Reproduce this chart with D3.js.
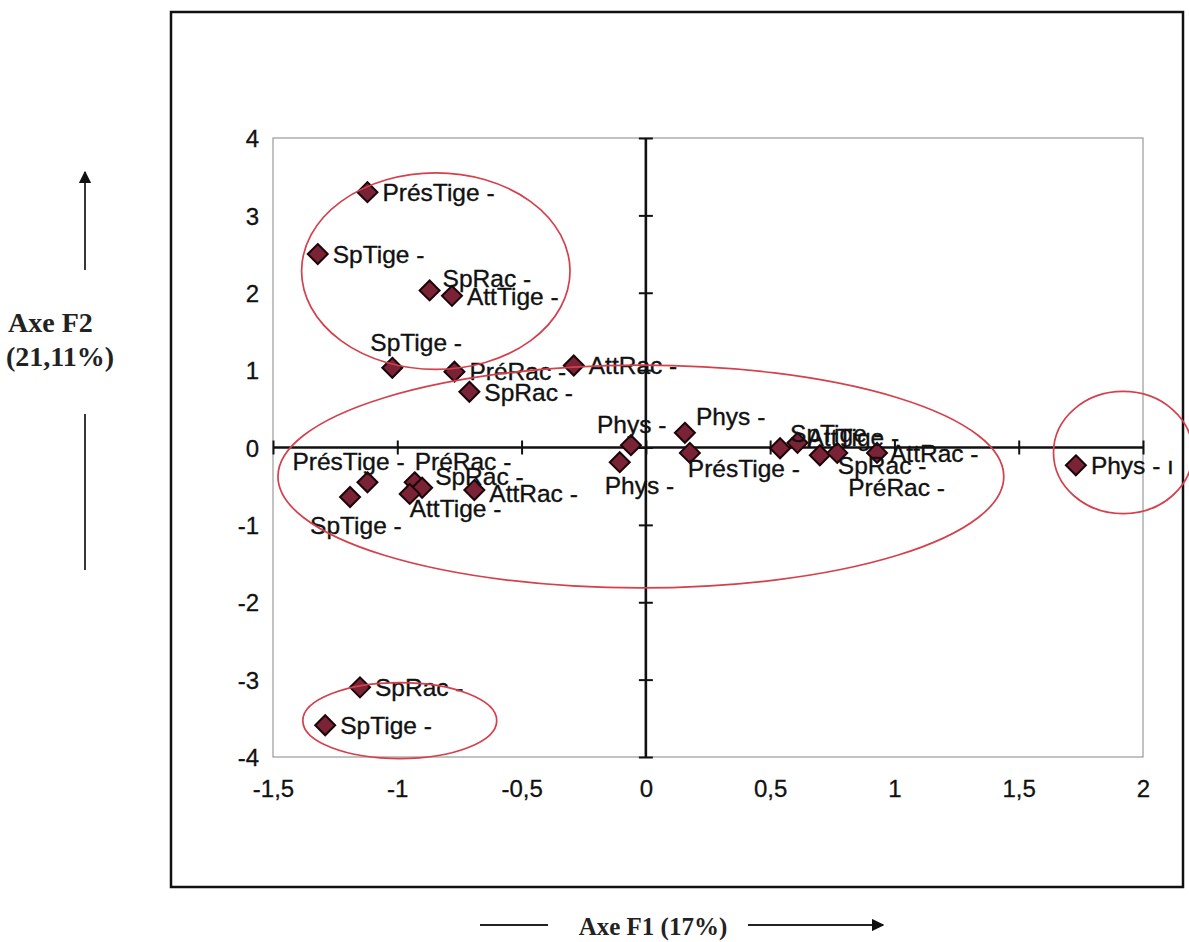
<!DOCTYPE html>
<html>
  <head>
    <title>ACP Axe F1 / Axe F2</title>
    <script src="https://d3js.org/d3.v7.min.js"></script>
    <style>
      body { margin: 0; background: #fff; }
      .lbl { font-family: Arial, "Liberation Sans", sans-serif; font-size: 24.5px; fill: #111; stroke: #111; stroke-width: 0.35; }
      .tick text { font-family: Arial, "Liberation Sans", sans-serif; font-size: 24px; fill: #111; stroke: #111; stroke-width: 0.3; }
      .title { font-family: "Times New Roman", "Liberation Serif", serif; font-weight: bold; fill: #222; }
    </style>
  </head>
  <body>
    <div id="chart"></div>
    <script>
      // Data
      var names = ["PrésTige", "SpTige", "SpRac", "AttTige", "SpTige", "PréRac", "SpRac", "AttRac",
                   "Phys", "Phys", "Phys", "PrésTige", "SpTige", "AttTige", "SpRac", "PréRac",
                   "AttRac", "Phys", "SpTige", "PrésTige", "PréRac", "SpRac", "AttTige", "AttRac",
                   "SpRac", "SpTige"];
      var f1 = [-1.12, -1.32, -0.87, -0.78, -1.02, -0.77, -0.71, -0.29,
                -0.06, -0.105, 0.157, 0.177, 0.54, 0.61, 0.70, 0.77,
                0.93, 1.73, -1.19, -1.12, -0.93, -0.90, -0.95, -0.69,
                -1.15, -1.29];
      var f2 = [3.30, 2.50, 2.03, 1.96, 1.03, 0.98, 0.72, 1.06,
                0.03, -0.19, 0.19, -0.07, -0.01, 0.06, -0.10, -0.07,
                -0.07, -0.23, -0.64, -0.45, -0.45, -0.52, -0.60, -0.55,
                -3.10, -3.59];
      var xTicks = [-1.5, -1, -0.5, 0, 0.5, 1, 1.5, 2];
      var xTickLabels = ["-1,5", "-1", "-0,5", "0", "0,5", "1", "1,5", "2"];
      var yTicks = [-4, -3, -2, -1, 0, 1, 2, 3, 4];
      var yTickLabels = ["-4", "-3", "-2", "-1", "0", "1", "2", "3", "4"];

      // groups circled by hand: centre f1, centre f2, half width, half height (axis units)
      var groupCx = [-0.845, -0.02, 1.92, -0.99];
      var groupCy = [2.28, -0.375, -0.065, -3.53];
      var groupRx = [0.54, 1.46, 0.28, 0.39];
      var groupRy = [1.27, 1.44, 0.79, 0.49];

      // label nudges (px), the labels were moved by hand in the original
      var labelDx = [15, 15, 13, 15, -22, 15, 15, 15,
                     -34, -15, 11, -2, 10, 10, 18, 11,
                     13, 15, -40, -75, 0, 13, 0, 15,
                     15, 15];
      var labelDy = [0, 0, -12, 0, -26, 0, 0, 0,
                     -21, 23, -17, 15, -15, -6, 10, 34,
                     0, 0, 28, -21, -21, -12, 14, 3,
                     0, 0];

      var points = names.map(function(n, i) {
        return { name: n, x: f1[i], y: f2[i], dx: labelDx[i], dy: labelDy[i] };
      });
      var extraText = { 17: " ı" };

      var svg = d3.select("#chart")
        .append("svg")
        .attr("width", 1189)
        .attr("height", 942);

      // outer frame
      svg.append("rect")
        .attr("x", 171).attr("y", 12)
        .attr("width", 1012).attr("height", 875)
        .attr("fill", "none")
        .attr("stroke", "#111")
        .attr("stroke-width", 2.5);

      var xScale = d3.scaleLinear().domain([-1.5, 2]).range([273, 1143]);
      var yScale = d3.scaleLinear().domain([-4, 4]).range([757, 138]);

      // plot area border
      svg.append("rect")
        .attr("x", xScale(-1.5)).attr("y", yScale(4))
        .attr("width", xScale(2) - xScale(-1.5))
        .attr("height", yScale(-4) - yScale(4))
        .attr("fill", "none")
        .attr("stroke", "#9a9a9a")
        .attr("stroke-width", 1.2);

      // tick labels
      var xAx = svg.append("g")
        .attr("transform", "translate(0," + (yScale(-4) + 20) + ")")
        .call(d3.axisBottom(xScale).tickValues(xTicks).tickSize(0)
          .tickFormat(function(d, i) { return xTickLabels[i]; }));
      xAx.select(".domain").remove();

      var yAx = svg.append("g")
        .attr("transform", "translate(" + (xScale(-1.5) - 11) + ",0)")
        .call(d3.axisLeft(yScale).tickValues(yTicks).tickSize(0)
          .tickFormat(function(d, i) { return yTickLabels[i]; }));
      yAx.select(".domain").remove();
      yAx.selectAll("text").attr("dy", "0.36em");

      // axes through zero
      var zx = svg.append("g")
        .attr("transform", "translate(0," + yScale(0) + ")")
        .call(d3.axisBottom(xScale).tickValues(xTicks).tickFormat(""));
      zx.select(".domain").attr("d", "M" + xScale(-1.5) + ",0H" + xScale(2))
        .attr("stroke", "#111").attr("stroke-width", 2.6);
      zx.selectAll(".tick line").attr("y1", -7).attr("y2", 7)
        .attr("stroke", "#111").attr("stroke-width", 2);

      var zy = svg.append("g")
        .attr("transform", "translate(" + xScale(0) + ",0)")
        .call(d3.axisLeft(yScale).tickValues(yTicks).tickFormat(""));
      zy.select(".domain").attr("d", "M0," + yScale(4) + "V" + yScale(-4))
        .attr("stroke", "#111").attr("stroke-width", 2.6);
      zy.selectAll(".tick line").attr("x1", -7).attr("x2", 7)
        .attr("stroke", "#111").attr("stroke-width", 2);

      // markers
      var r = 10;
      svg.selectAll("path.pt")
        .data(points)
        .enter()
        .append("path")
        .attr("class", "pt")
        .attr("d", function(d) {
          var cx = xScale(d.x), cy = yScale(d.y);
          return "M" + cx + "," + (cy - r) + "L" + (cx + r) + "," + cy +
                 "L" + cx + "," + (cy + r) + "L" + (cx - r) + "," + cy + "Z";
        })
        .attr("fill", "#7a2236")
        .attr("stroke", "#1a0508")
        .attr("stroke-width", 2);

      // labels
      svg.selectAll("text.lbl")
        .data(points)
        .enter()
        .append("text")
        .attr("class", "lbl")
        .attr("x", function(d) { return xScale(d.x) + d.dx; })
        .attr("y", function(d) { return yScale(d.y) + d.dy; })
        .attr("dy", "0.36em")
        .text(function(d, i) { return d.name + " -" + (extraText[i] || ""); });

      // hand drawn ellipses
      svg.selectAll("ellipse")
        .data(groupCx)
        .enter()
        .append("ellipse")
        .attr("cx", function(d) { return xScale(d); })
        .attr("cy", function(d, i) { return yScale(groupCy[i]); })
        .attr("rx", function(d, i) { return xScale(groupRx[i]) - xScale(0); })
        .attr("ry", function(d, i) { return yScale(0) - yScale(groupRy[i]); })
        .attr("fill", "none")
        .attr("stroke", "#d4404c")
        .attr("stroke-width", 1.7);

      // axis titles with arrows
      svg.append("text").attr("class", "title")
        .attr("x", 8).attr("y", 332)
        .style("font-size", "28px")
        .text("Axe F2");
      svg.append("text").attr("class", "title")
        .attr("x", 6).attr("y", 366)
        .style("font-size", "28px")
        .text("(21,11%)");

      svg.append("defs").append("marker")
        .attr("id", "arr")
        .attr("viewBox", "0 0 10 10")
        .attr("refX", 9).attr("refY", 5)
        .attr("markerWidth", 7).attr("markerHeight", 7)
        .attr("orient", "auto")
        .append("path")
        .attr("d", "M0,0L10,5L0,10Z")
        .attr("fill", "#111");

      svg.append("line")
        .attr("x1", 85).attr("y1", 270).attr("x2", 85).attr("y2", 172)
        .attr("stroke", "#222").attr("stroke-width", 1.8)
        .attr("marker-end", "url(#arr)");
      svg.append("line")
        .attr("x1", 85).attr("y1", 414).attr("x2", 85).attr("y2", 570)
        .attr("stroke", "#222").attr("stroke-width", 1.8);

      svg.append("text").attr("class", "title")
        .attr("x", 653).attr("y", 935)
        .attr("text-anchor", "middle")
        .style("font-size", "25px")
        .text("Axe F1 (17%)");
      svg.append("line")
        .attr("x1", 480).attr("y1", 925).attr("x2", 548).attr("y2", 925)
        .attr("stroke", "#222").attr("stroke-width", 1.8);
      svg.append("line")
        .attr("x1", 748).attr("y1", 925).attr("x2", 883).attr("y2", 925)
        .attr("stroke", "#222").attr("stroke-width", 1.8)
        .attr("marker-end", "url(#arr)");
    </script>
  </body>
</html>
